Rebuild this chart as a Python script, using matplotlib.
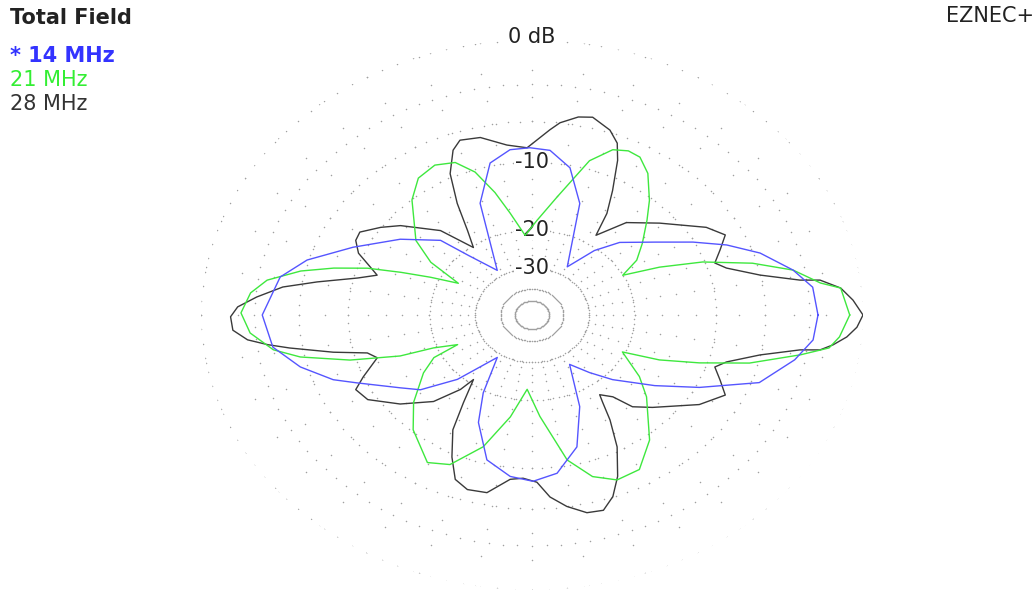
import numpy as np
import matplotlib
matplotlib.use("Agg")
import matplotlib.pyplot as plt

# azimuth (deg) and total field (dB)
az_14 = [0, 6.8, 11.7, 18.1, 23.4, 28.6, 35.5, 44.9, 51.2, 58.7, 70.4, 77.9, 84.8, 90.6,
         96.3, 102.9, 111.1, 122.9, 131.5, 135.5, 145.3, 155.5, 163.6, 169.7, 180,
         188.5, 195.1, 201.4, 205, 213.6, 218.9, 226.1, 235.8, 242.5, 247.5,
         255.5, 263.6, 270.3, 277.5, 285.8, 293.4, 302.3, 309.7, 316, 325.3,
         332.5, 340.3, 348.4, 353.9, 360]
db_14 = [-2.5, -2.7, -3.7, -5.5, -7.6, -10.1, -13.4, -16.8, -20.5, -27, -14.4, -10.3, -8.7, -8.5,
         -8.6, -9.7, -14.2, -28, -21.2, -16.2, -12.4, -8.9, -5.9, -4.4, -3.5,
         -4.0, -5.5, -7.5, -9.2, -12.6, -14.3, -19.2, -28.6, -19.5, -14.7,
         -10.4, -9.0, -8.6, -9.3, -11.9, -17.3, -26.4, -22.2, -18.5, -13.6,
         -9.6, -5.4, -3.6, -2.7, -2.5]

az_21 = [0, 6.0, 7.6, 11.7, 15.8, 20.5, 24.3, 27.8, 32.2, 38.0, 44.8, 49.6, 55.8,
         60.4, 64.0, 67.9, 72.8, 80.0, 87.5, 94.1, 100.1, 104.1, 108.3, 112.7, 118.3,
         124.6, 130.9, 142.3, 147.9, 152.6, 155.9, 158.6, 161.1, 164.1, 167.1,
         171.0, 174.6, 179.5, 184.4, 189.2, 192.3, 196.6, 200.5, 201.9, 205.6,
         207.6, 212.7, 221.6, 229.3, 239.5, 245.5, 252.9, 260.0, 266.9, 273.7,
         281.4, 287.3, 293.2, 300.0, 308.0, 319.3, 325.4, 333.8, 337.0, 341.0,
         345.1, 349.9, 352.4, 355.1, 360]
db_21 = [-0.7, -1.1, -2.2, -3.7, -6.3, -10.2, -14.7, -20.0, -16.8, -14.7, -12.2, -10.3, -8.1,
         -7.1, -7.0, -7.4, -9.1, -14.2, -18.2, -21.1, -16.7, -13.3, -10.3, -8.7, -8.2,
         -8.6, -10.1, -13.9, -17.4, -23.6, -18.6, -14.6, -11.0, -8.1, -5.7,
         -3.6, -2.7, -2.2, -2.7, -4.0, -5.7, -9.5, -14.6, -19.4, -23.7,
         -18.7, -16.1, -12.6, -10.2, -8.1, -8.8, -11.8, -16.7, -22.3, -17.0,
         -10.6, -8.3, -7.3, -7.4, -9.4, -13.4, -15.9, -20.3, -14.9, -10.7,
         -6.6, -3.3, -1.7, -1.2, -0.7]

az_28 = [0, 3.2, 6.0, 8.3, 8.9, 11.9, 16.2, 18.9, 22.6, 26.5, 31.2, 40.9, 49.7,
         56.3, 58.5, 61.7, 65.3, 67.6, 70.7, 75.7, 79.0, 83.1, 85.4, 91.4, 97.0, 103.6,
         108.9, 111.7, 115.7, 119.1, 122.4, 125.8, 132.0, 140.7, 145.1, 149.9,
         153.0, 156.8, 160.3, 162.8, 165.7, 169.5, 172.3, 175.5, 178.1, 180.4,
         183.5, 186.0, 187.7, 189.3, 192.7, 195.5, 198.4, 203.8, 207.0, 211.8,
         219.1, 226.6, 231.4, 233.0, 237.0, 240.2, 244.9, 248.8, 252.9, 258.1,
         263.7, 267.4, 271.4, 274.7, 278.6, 283.0, 286.9, 290.3, 293.8, 298.2,
         301.7, 303.9, 305.2, 309.4, 312.3, 317.3, 327.2, 333.5, 337.4, 341.1,
         343.8, 348.1, 351.1, 351.7, 353.2, 355.2, 357.4, 360]
db_28 = [0.0, -0.5, -1.1, -2.2, -3.4, -6.0, -8.4, -9.2, -8.3, -7.3, -8.3, -11.5, -14.0,
         -18.0, -14.3, -11.4, -8.2, -6.7, -5.8, -5.1, -5.3, -6.0, -6.7, -8.5, -8.1, -7.0,
         -6.8, -7.5, -9.6, -13.1, -17.3, -20.4, -15.1, -11.4, -10.0, -8.7,
         -8.8, -9.6, -11.2, -12.2, -10.4, -7.1, -4.7, -3.1, -2.0, -1.6,
         -1.7, -2.5, -3.7, -5.1, -8.3, -11.3, -12.1, -10.0, -8.8, -9.2,
         -11.4, -14.3, -18.1, -20.9, -16.5, -12.5, -9.6, -7.6, -7.0, -7.1,
         -8.7, -8.9, -8.5, -7.0, -6.0, -5.2, -5.1, -6.0, -7.6, -10.4,
         -13.7, -16.4, -17.7, -16.3, -13.6, -12.0, -8.7, -7.3, -8.3, -9.2,
         -8.4, -6.0, -3.4, -2.2, -1.5, -0.8, -0.3, 0.0]

ring_db = [0, -3, -6, -10, -20, -30, -40, -50]
label_db = [-10, -20, -30]


# ARRL log scale: radius shrinks by 0.89 for every 2 dB
def arrl(db):
    return 0.89 ** (-np.asarray(db, dtype=float) / 2)


def arrl_inv(r):
    r = np.clip(np.asarray(r, dtype=float), 1e-12, None)
    return -2 * np.log(r) / np.log(0.89)


fig = plt.figure(figsize=(10.36, 5.90), dpi=100)
ax = fig.add_axes([201 / 1036, 0.0, 662 / 1036, 550 / 590], projection="polar")
ax.set_aspect("auto")
ax.set_rscale("function", functions=(arrl, arrl_inv))
ax.set_rlim(-100, 0)
ax.set_xticks([])
ax.set_yticks([])
ax.grid(False)
ax.spines["polar"].set_visible(False)

grid_col = "#a0a0a0"
th = np.radians(np.arange(0, 360, 3))
for ring in ring_db:
    ax.plot(th, np.full(th.shape, ring), ls="none", marker="o", ms=1.1,
            mew=0, color=grid_col, zorder=1)
spoke_db = np.arange(0, -31, -2.0)
for a in range(0, 360, 10):
    ax.plot(np.full(spoke_db.shape, np.radians(a)), spoke_db, ls="none", marker="o",
            ms=1.1, mew=0, color=grid_col, zorder=1)

ax.plot(np.radians(az_28), db_28, color="#3a3a3a", lw=1.0, zorder=3)
ax.plot(np.radians(az_21), db_21, color="#3ee83e", lw=1.0, zorder=3)
ax.plot(np.radians(az_14), db_14, color="#5555ff", lw=1.0, zorder=3)

lab_kw = dict(ha="center", va="center", fontsize=15, color="#222222", zorder=2,
              bbox=dict(fc="white", ec="none", pad=0.5))
ax.text(np.pi / 2, 0.2, "0 dB", **lab_kw)
for d in label_db:
    ax.text(np.pi / 2, d, str(d), **lab_kw)

fig.text(10 / 1036, 1 - 18 / 590, "Total Field", fontsize=15, fontweight="bold",
         color="#222222", va="center")
fig.text(10 / 1036, 1 - 56 / 590, "* 14 MHz", fontsize=15, fontweight="bold",
         color="#3333ff", va="center")
fig.text(10 / 1036, 1 - 80 / 590, "21 MHz", fontsize=15, color="#33ee33", va="center")
fig.text(10 / 1036, 1 - 104 / 590, "28 MHz", fontsize=15, color="#333333", va="center")
fig.text(1034 / 1036, 1 - 16 / 590, "EZNEC+", fontsize=15, color="#222222",
         ha="right", va="center")

fig.savefig("out.png", dpi=100, facecolor="white")
